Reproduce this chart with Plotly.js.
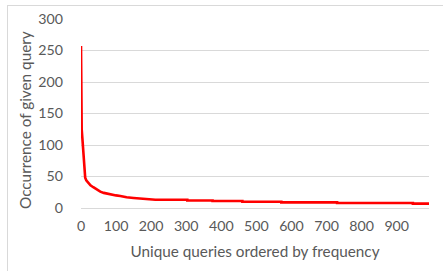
<!DOCTYPE html>
<html>
<head>
<meta charset="utf-8">
<script src="https://cdn.plot.ly/plotly-3.0.1.min.js"></script>
<style>
  html, body { margin: 0; padding: 0; background: #ffffff; }
  #wrap { position: relative; width: 443px; height: 271px; overflow: hidden; }
  #chart { width: 443px; height: 271px; }
  #frame { position: absolute; left: 7px; top: 5px; right: -2px; bottom: -2px;
           border-top: 1px solid #d9d9d9; border-left: 1px solid #d9d9d9; pointer-events: none; }
</style>
</head>
<body>
<div id="wrap">
  <div id="chart"></div>
  <div id="frame"></div>
</div>
<script>
// Rank of unique query (ordered by frequency) and its occurrence count
const ranks  = [0, 1, 2, 4, 6, 8, 10, 12, 15, 20, 27, 35, 45, 55, 65, 80, 100, 112, 130, 150, 175, 197, 212, 212, 303, 303, 375, 375, 460, 460, 571, 571, 730, 730, 946, 946, 992];
const counts = [257, 150, 125, 110, 90, 80, 60, 48, 44, 40, 36, 33, 29, 26, 24, 22, 20, 19, 17, 16, 15, 14, 14, 13, 13, 12, 12, 11, 11, 10, 10, 9, 9, 8, 8, 7, 7];

const xTickVals = [0, 100, 200, 300, 400, 500, 600, 700, 800, 900];
const yTickVals = [0, 50, 100, 150, 200, 250, 300];

const xTitle = "Unique queries ordered by frequency";
const yTitle = "Occurrence of given query";

const family = "Lato, 'Open Sans', sans-serif";
const color = "#595959";
const tickFont = { family: family, size: 14.2, color: color };
const titleFont = { family: family, size: 15.3, color: color };

const L = 81, R = 14, T = 19, B = 63, W = 443, H = 271;
const pw = W - L - R, ph = H - T - B;

Plotly.newPlot("chart", [{
  x: ranks,
  y: counts,
  type: "scatter",
  mode: "lines",
  line: { color: "#ff0000", width: 2.6 },
  hoverinfo: "skip"
}], {
  width: W,
  height: H,
  margin: { l: L, r: R, t: T, b: B },
  paper_bgcolor: "rgba(0,0,0,0)",
  plot_bgcolor: "rgba(0,0,0,0)",
  font: tickFont,
  showlegend: false,
  xaxis: {
    range: [0, 992],
    tickvals: xTickVals,
    ticktext: xTickVals.map(String),
    showgrid: false,
    zeroline: false,
    showline: false,
    ticks: "",
    ticklabelstandoff: 8,
    tickfont: tickFont,
    title: { text: xTitle, font: titleFont, standoff: 13 }
  },
  yaxis: {
    range: [0, 300],
    tickvals: yTickVals,
    ticktext: yTickVals.map(String),
    showgrid: true,
    gridcolor: "#d9d9d9",
    gridwidth: 1,
    zeroline: true,
    zerolinecolor: "#d9d9d9",
    zerolinewidth: 1,
    showline: false,
    ticks: "",
    ticklabelstandoff: 17,
    tickfont: tickFont
  },
  annotations: [{
    text: yTitle,
    font: titleFont,
    textangle: -90,
    showarrow: false,
    xref: "paper", yref: "paper",
    x: (25 - L) / pw, y: (H - B - 120) / ph,
    xanchor: "center", yanchor: "middle"
  }]
}, { staticPlot: true, displayModeBar: false });
</script>
</body>
</html>
